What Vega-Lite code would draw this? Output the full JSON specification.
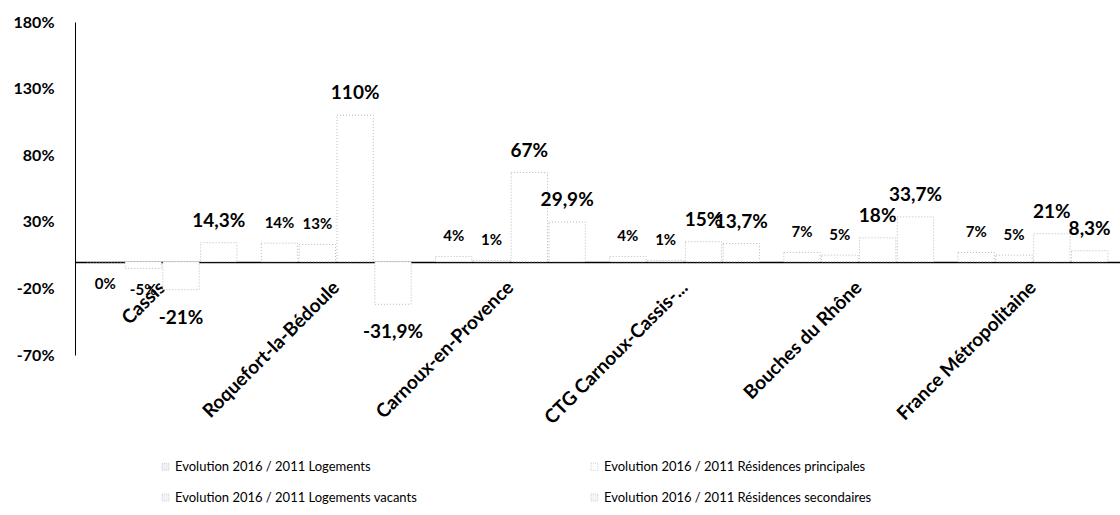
{
  "$schema": "https://vega.github.io/schema/vega-lite/v6.json",
  "width": 1045,
  "height": 333,
  "autosize": {"type": "none"},
  "padding": {"left": 75, "top": 22, "right": 0, "bottom": 160},
  "background": "white",
  "config": {
    "view": {"stroke": null},
    "font": "Lato"
  },
  "data": {
    "values": [
      {"commune": "Cassis", "serie": "Evolution 2016 / 2011 Logements", "value": 0, "label": "0%"},
      {"commune": "Cassis", "serie": "Evolution 2016 / 2011 Résidences principales", "value": -5, "label": "-5%"},
      {"commune": "Cassis", "serie": "Evolution 2016 / 2011 Logements vacants", "value": -21, "label": "-21%"},
      {"commune": "Cassis", "serie": "Evolution 2016 / 2011 Résidences secondaires", "value": 14.3, "label": "14,3%"},
      {"commune": "Roquefort-la-Bédoule", "serie": "Evolution 2016 / 2011 Logements", "value": 14, "label": "14%"},
      {"commune": "Roquefort-la-Bédoule", "serie": "Evolution 2016 / 2011 Résidences principales", "value": 13, "label": "13%"},
      {"commune": "Roquefort-la-Bédoule", "serie": "Evolution 2016 / 2011 Logements vacants", "value": 110, "label": "110%"},
      {"commune": "Roquefort-la-Bédoule", "serie": "Evolution 2016 / 2011 Résidences secondaires", "value": -31.9, "label": "-31,9%"},
      {"commune": "Carnoux-en-Provence", "serie": "Evolution 2016 / 2011 Logements", "value": 4, "label": "4%"},
      {"commune": "Carnoux-en-Provence", "serie": "Evolution 2016 / 2011 Résidences principales", "value": 1, "label": "1%"},
      {"commune": "Carnoux-en-Provence", "serie": "Evolution 2016 / 2011 Logements vacants", "value": 67, "label": "67%"},
      {"commune": "Carnoux-en-Provence", "serie": "Evolution 2016 / 2011 Résidences secondaires", "value": 29.9, "label": "29,9%"},
      {"commune": "CTG Carnoux-Cassis-...", "serie": "Evolution 2016 / 2011 Logements", "value": 4, "label": "4%"},
      {"commune": "CTG Carnoux-Cassis-...", "serie": "Evolution 2016 / 2011 Résidences principales", "value": 1, "label": "1%"},
      {"commune": "CTG Carnoux-Cassis-...", "serie": "Evolution 2016 / 2011 Logements vacants", "value": 15, "label": "15%"},
      {"commune": "CTG Carnoux-Cassis-...", "serie": "Evolution 2016 / 2011 Résidences secondaires", "value": 13.7, "label": "13,7%"},
      {"commune": "Bouches du Rhône", "serie": "Evolution 2016 / 2011 Logements", "value": 7, "label": "7%"},
      {"commune": "Bouches du Rhône", "serie": "Evolution 2016 / 2011 Résidences principales", "value": 5, "label": "5%"},
      {"commune": "Bouches du Rhône", "serie": "Evolution 2016 / 2011 Logements vacants", "value": 18, "label": "18%"},
      {"commune": "Bouches du Rhône", "serie": "Evolution 2016 / 2011 Résidences secondaires", "value": 33.7, "label": "33,7%"},
      {"commune": "France Métropolitaine", "serie": "Evolution 2016 / 2011 Logements", "value": 7, "label": "7%"},
      {"commune": "France Métropolitaine", "serie": "Evolution 2016 / 2011 Résidences principales", "value": 5, "label": "5%"},
      {"commune": "France Métropolitaine", "serie": "Evolution 2016 / 2011 Logements vacants", "value": 21, "label": "21%"},
      {"commune": "France Métropolitaine", "serie": "Evolution 2016 / 2011 Résidences secondaires", "value": 8.3, "label": "8,3%"}
    ]
  },
  "encoding": {
    "x": {
      "field": "commune",
      "type": "nominal",
      "sort": null,
      "scale": {"paddingInner": 0.14, "paddingOuter": 0.07},
      "axis": {
        "title": null,
        "orient": "bottom",
        "offset": -93,
        "domainColor": "#000000",
        "domainWidth": 1.5,
        "ticks": false,
        "labelAngle": -45,
        "labelAlign": "right",
        "labelBaseline": "middle",
        "labelPadding": 22,
        "labelFont": "Lato",
        "labelFontSize": 19,
        "labelFontWeight": "bold",
        "labelColor": "#000000",
        "labelLimit": 300
      }
    },
    "xOffset": {
      "field": "serie",
      "type": "nominal",
      "sort": null,
      "scale": {"paddingInner": 0.04}
    },
    "y": {
      "field": "value",
      "type": "quantitative",
      "scale": {"domain": [-70, 180], "nice": false, "zero": false},
      "axis": {
        "title": null,
        "values": [-70, -20, 30, 80, 130, 180],
        "labelExpr": "datum.value + '%'",
        "grid": false,
        "ticks": false,
        "domainColor": "#000000",
        "domainWidth": 1,
        "labelPadding": 21,
        "labelFont": "Lato",
        "labelFontSize": 16,
        "labelFontWeight": "bold",
        "labelColor": "#000000"
      }
    }
  },
  "layer": [
    {
      "mark": {"type": "bar", "fill": "white", "stroke": "#b8b8b8", "strokeWidth": 1, "strokeDash": [1, 2]},
      "encoding": {
        "y2": {"datum": 0},
        "color": {
          "field": "serie",
          "type": "nominal",
          "sort": null,
          "scale": {"range": ["#f0f0f0", "#ffffff", "#f2f2f2", "#f4f4f4"]},
          "legend": {
            "title": null,
            "orient": "none",
            "legendX": 84,
            "legendY": 438,
            "direction": "horizontal",
            "columns": 2,
            "columnPadding": 170,
            "rowPadding": 17,
            "symbolType": "square",
            "symbolSize": 50,
            "symbolStrokeColor": "#d0d0d0",
            "symbolStrokeWidth": 1,
            "symbolDash": [1, 1],
            "labelFont": "Lato",
            "labelFontSize": 13,
            "labelColor": "#000000",
            "labelLimit": 400,
            "labelOffset": 3
          }
        }
      }
    },
    {
      "transform": [{"filter": "datum.value > 0 && indexof(['Evolution 2016 / 2011 Logements', 'Evolution 2016 / 2011 Résidences principales'], datum.serie) >= 0"}],
      "mark": {"type": "text", "baseline": "middle", "dy": -20, "fontSize": 15, "fontWeight": "bold", "font": "Lato", "color": "#000000"},
      "encoding": {"text": {"field": "label"}}
    },
    {
      "transform": [{"filter": "datum.value > 0 && indexof(['Evolution 2016 / 2011 Logements', 'Evolution 2016 / 2011 Résidences principales'], datum.serie) < 0"}],
      "mark": {"type": "text", "baseline": "middle", "dy": -22, "fontSize": 19, "fontWeight": "bold", "font": "Lato", "color": "#000000"},
      "encoding": {"text": {"field": "label"}}
    },
    {
      "transform": [{"filter": "datum.value <= 0 && indexof(['Evolution 2016 / 2011 Logements', 'Evolution 2016 / 2011 Résidences principales'], datum.serie) >= 0"}],
      "mark": {"type": "text", "baseline": "middle", "dy": 22, "fontSize": 15, "fontWeight": "bold", "font": "Lato", "color": "#000000"},
      "encoding": {"text": {"field": "label"}}
    },
    {
      "transform": [{"filter": "datum.value <= 0 && indexof(['Evolution 2016 / 2011 Logements', 'Evolution 2016 / 2011 Résidences principales'], datum.serie) < 0"}],
      "mark": {"type": "text", "baseline": "middle", "dy": 28, "fontSize": 19, "fontWeight": "bold", "font": "Lato", "color": "#000000"},
      "encoding": {"text": {"field": "label"}}
    }
  ]
}
